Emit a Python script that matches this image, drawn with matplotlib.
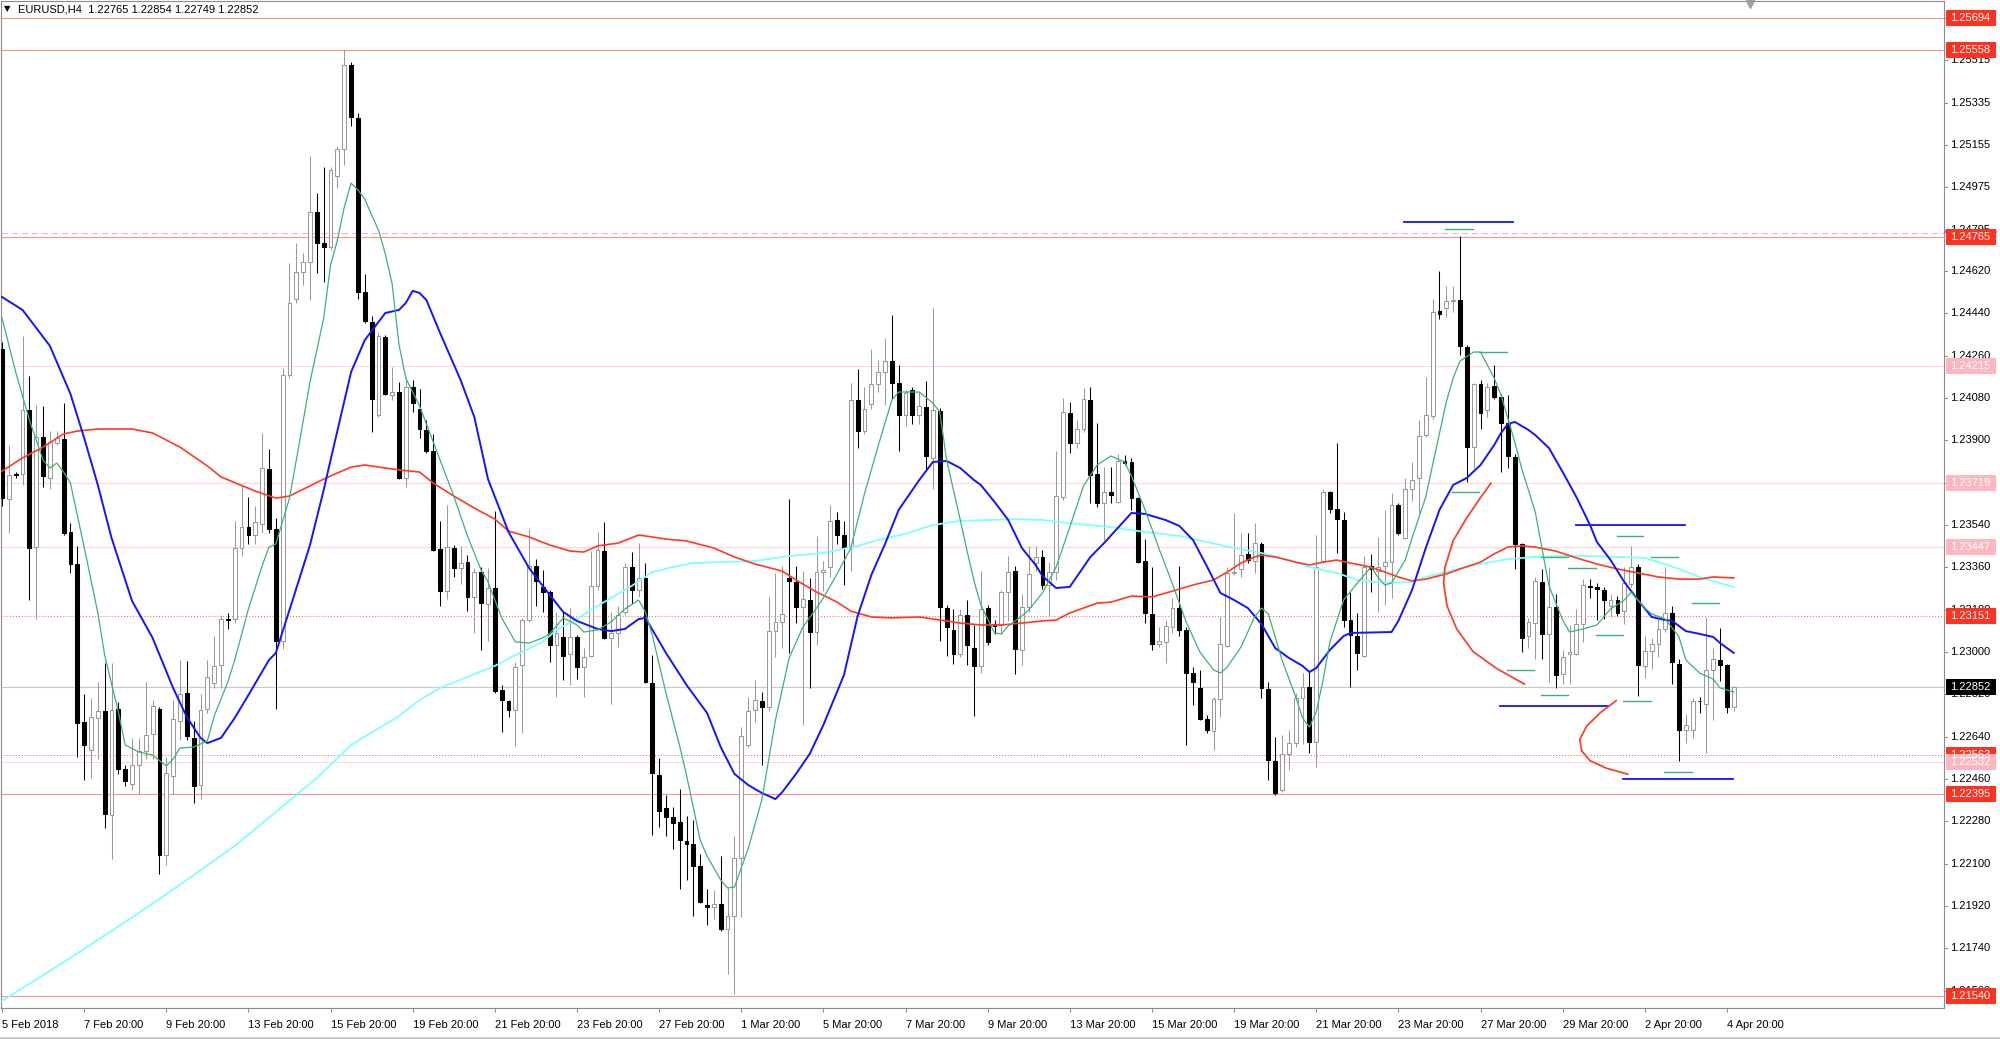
import matplotlib
matplotlib.use("Agg")
import matplotlib.pyplot as plt
from matplotlib.patches import Rectangle
import numpy as np

plt.rcParams['font.family'] = ['Liberation Sans', 'DejaVu Sans']

symbol = "EURUSD,H4"

# H4 candles, 5 Feb 2018 20:00 .. 5 Apr 2018 00:00
open_price = [
    1.24288, 1.23650, 1.23755, 1.23757, 1.24029, 1.23446, 1.23914, 1.23740, 1.23888, 1.23905,
    1.23510, 1.23374, 1.22702, 1.22584, 1.22720, 1.22749, 1.22307, 1.22758, 1.22503, 1.22439,
    1.22520, 1.22579, 1.22652, 1.22758, 1.22137, 1.22473, 1.22707, 1.22826, 1.22635, 1.22435,
    1.22758, 1.22868, 1.22945, 1.23140, 1.23140, 1.23442, 1.23531, 1.23497, 1.23544, 1.23778,
    1.23523, 1.23047, 1.24177, 1.24500, 1.24615, 1.24657, 1.24870, 1.24738, 1.24721, 1.25023,
    1.25138, 1.25495, 1.25270, 1.24530, 1.24403, 1.24007, 1.24339, 1.24092, 1.24105, 1.23740,
    1.24126, 1.24033, 1.23944, 1.23854, 1.23438, 1.23259, 1.23442, 1.23357, 1.23382, 1.23234,
    1.23340, 1.23204, 1.23272, 1.22839, 1.22792, 1.22753, 1.22945, 1.23136, 1.23366, 1.23276,
    1.23255, 1.23030, 1.23064, 1.22992, 1.23064, 1.22936, 1.22983, 1.23281, 1.23429, 1.23060,
    1.23081, 1.23170, 1.23361, 1.23264, 1.23315, 1.22868, 1.22477, 1.22337, 1.22299, 1.22278,
    1.22197, 1.22184, 1.22091, 1.21925, 1.21916, 1.21929, 1.21823, 1.21878, 1.22125, 1.22605,
    1.22753, 1.22792, 1.22766, 1.23089, 1.23128, 1.23315, 1.23298, 1.23191, 1.23221, 1.23085,
    1.23340, 1.23361, 1.23561, 1.23497, 1.23446, 1.24071, 1.23939, 1.24054, 1.24139, 1.24190,
    1.24237, 1.24143, 1.24007, 1.24114, 1.24007, 1.24041, 1.23825, 1.24024, 1.23187, 1.23094,
    1.22992, 1.23157, 1.23017, 1.22941, 1.23187, 1.23119, 1.23115, 1.23255, 1.23344, 1.23009,
    1.23191, 1.23378, 1.23404, 1.23285, 1.23340, 1.23659, 1.24016, 1.23888, 1.23948, 1.24071,
    1.23757, 1.23633, 1.23680, 1.23638, 1.23812, 1.23808, 1.23654, 1.23387, 1.23162, 1.23034,
    1.23043, 1.23106, 1.23187, 1.23094, 1.22911, 1.22847, 1.22715, 1.22664, 1.22800, 1.23026,
    1.23336, 1.23353, 1.23417, 1.23387, 1.23459, 1.22843, 1.22537, 1.22414, 1.22567, 1.22613,
    1.22805, 1.22851, 1.22618, 1.23387, 1.23680, 1.23608, 1.23561, 1.23136, 1.23068, 1.22983,
    1.23366, 1.23344, 1.23366, 1.23382, 1.23625, 1.23485, 1.23693, 1.23740, 1.23922, 1.24003,
    1.24449, 1.24462, 1.24492, 1.24496, 1.24296, 1.23871, 1.24139, 1.24029, 1.24131, 1.24084,
    1.23973, 1.23829, 1.23459, 1.23068, 1.23123, 1.23298, 1.23077, 1.23191, 1.22907, 1.22992,
    1.22992, 1.23119, 1.23281, 1.23276, 1.23264, 1.23196, 1.23221, 1.23174, 1.23289, 1.23361,
    1.22941, 1.23004, 1.23034, 1.23098, 1.23166, 1.22949, 1.22669, 1.22669, 1.22792, 1.22779,
    1.22924, 1.22966, 1.22945, 1.22765,
]
high_price = [
    1.24318, 1.23880, 1.23765, 1.24343, 1.24173, 1.24050, 1.24046, 1.23939, 1.23939, 1.24058,
    1.23548, 1.23451, 1.22822, 1.22805, 1.22873, 1.22953, 1.22953, 1.22788, 1.22520, 1.22635,
    1.22635, 1.22873, 1.22796, 1.22766, 1.22554, 1.22796, 1.22966, 1.22962, 1.22707, 1.22822,
    1.22966, 1.23068, 1.23157, 1.23166, 1.23557, 1.23710, 1.23659, 1.23621, 1.23931, 1.23863,
    1.23570, 1.24207, 1.24653, 1.24738, 1.24696, 1.25108, 1.24951, 1.25061, 1.25061, 1.25151,
    1.25559, 1.25508, 1.25291, 1.24607, 1.24428, 1.24356, 1.24347, 1.24211, 1.24148, 1.24156,
    1.24156, 1.24118, 1.23986, 1.23927, 1.23557, 1.23625, 1.23455, 1.23451, 1.23412, 1.23357,
    1.23361, 1.23357, 1.23599, 1.22860, 1.22796, 1.22958, 1.23145, 1.23523, 1.23395, 1.23348,
    1.23264, 1.23170, 1.23170, 1.23187, 1.23072, 1.23017, 1.23429, 1.23510, 1.23553, 1.23170,
    1.23196, 1.23378, 1.23425, 1.23463, 1.23378, 1.22987, 1.22550, 1.22392, 1.22341, 1.22418,
    1.22303, 1.22286, 1.22142, 1.21993, 1.21989, 1.22133, 1.21997, 1.22218, 1.22681, 1.22809,
    1.22881, 1.22830, 1.23234, 1.23336, 1.23366, 1.23650, 1.23366, 1.23344, 1.23315, 1.23493,
    1.23387, 1.23625, 1.23595, 1.23557, 1.24143, 1.24203, 1.24126, 1.24288, 1.24241, 1.24335,
    1.24432, 1.24220, 1.24114, 1.24126, 1.24105, 1.24152, 1.24462, 1.24037, 1.23200, 1.23183,
    1.23183, 1.23221, 1.23115, 1.23344, 1.23200, 1.23136, 1.23264, 1.23408, 1.23366, 1.23247,
    1.23451, 1.23451, 1.23434, 1.23382, 1.23854, 1.24080, 1.24063, 1.23986, 1.24122, 1.24126,
    1.23973, 1.23786, 1.23786, 1.23842, 1.23837, 1.23825, 1.23659, 1.23480, 1.23361, 1.23106,
    1.23136, 1.23230, 1.23366, 1.23106, 1.22936, 1.22924, 1.22732, 1.22809, 1.23149, 1.23361,
    1.23591, 1.23506, 1.23506, 1.23548, 1.23468, 1.22873, 1.22639, 1.22647, 1.22669, 1.22826,
    1.22911, 1.22915, 1.23497, 1.23693, 1.23684, 1.23888, 1.23595, 1.23255, 1.23166, 1.23408,
    1.23417, 1.23489, 1.23604, 1.23676, 1.23633, 1.23740, 1.23808, 1.23986, 1.24169, 1.24500,
    1.24619, 1.24556, 1.24556, 1.24768, 1.24305, 1.24143, 1.24156, 1.24143, 1.24220, 1.24097,
    1.24092, 1.23841, 1.23463, 1.23145, 1.23319, 1.23353, 1.23361, 1.23247, 1.23009, 1.23115,
    1.23183, 1.23310, 1.23310, 1.23293, 1.23276, 1.23247, 1.23238, 1.23361, 1.23451, 1.23374,
    1.23068, 1.23060, 1.23140, 1.23361, 1.23196, 1.22970, 1.22737, 1.22805, 1.22809, 1.23149,
    1.23017, 1.23102, 1.22949, 1.22854,
]
low_price = [
    1.23621, 1.23506, 1.23740, 1.23710, 1.23221, 1.23140, 1.23701, 1.23693, 1.23880, 1.23497,
    1.23336, 1.22554, 1.22456, 1.22465, 1.22545, 1.22252, 1.22120, 1.22481, 1.22431, 1.22414,
    1.22397, 1.22545, 1.22545, 1.22057, 1.22095, 1.22397, 1.22626, 1.22626, 1.22358, 1.22375,
    1.22741, 1.22847, 1.22847, 1.23098, 1.23123, 1.23408, 1.23459, 1.23459, 1.23506, 1.23506,
    1.22758, 1.23013, 1.24164, 1.24483, 1.24560, 1.24496, 1.24611, 1.24573, 1.24709, 1.24972,
    1.25070, 1.25236, 1.24500, 1.24400, 1.23935, 1.23999, 1.24092, 1.24071, 1.23735, 1.23701,
    1.24020, 1.23910, 1.23846, 1.23429, 1.23196, 1.23225, 1.23319, 1.23289, 1.23174, 1.23081,
    1.23009, 1.23047, 1.22826, 1.22660, 1.22724, 1.22601, 1.22656, 1.23128, 1.23196, 1.23170,
    1.22958, 1.22809, 1.22881, 1.22860, 1.22885, 1.22809, 1.22979, 1.23264, 1.23055, 1.22779,
    1.23021, 1.23157, 1.23204, 1.23234, 1.22868, 1.22222, 1.22256, 1.22218, 1.22163, 1.21993,
    1.22031, 1.21878, 1.21933, 1.21840, 1.21865, 1.21814, 1.21632, 1.21547, 1.21874, 1.22596,
    1.22702, 1.22520, 1.22749, 1.22979, 1.23017, 1.22996, 1.23123, 1.22690, 1.22847, 1.23030,
    1.23259, 1.23319, 1.23459, 1.23285, 1.23344, 1.23867, 1.23927, 1.24033, 1.24105, 1.24050,
    1.24075, 1.23854, 1.23961, 1.23969, 1.23969, 1.23778, 1.23693, 1.23047, 1.22983, 1.22949,
    1.22979, 1.22945, 1.22728, 1.22911, 1.23030, 1.23077, 1.23077, 1.23132, 1.22907, 1.22945,
    1.23170, 1.23344, 1.23268, 1.23153, 1.23306, 1.23646, 1.23846, 1.23867, 1.23935, 1.23633,
    1.23616, 1.23476, 1.23633, 1.23633, 1.23795, 1.23604, 1.23378, 1.23123, 1.23009, 1.23021,
    1.22953, 1.23081, 1.23068, 1.22605, 1.22775, 1.22711, 1.22656, 1.22584, 1.22724, 1.23021,
    1.23327, 1.23319, 1.23378, 1.23336, 1.22805, 1.22456, 1.22392, 1.22405, 1.22499, 1.22596,
    1.22609, 1.22571, 1.22511, 1.23378, 1.23591, 1.23421, 1.23106, 1.22851, 1.22924, 1.22979,
    1.23255, 1.23170, 1.23200, 1.23230, 1.23497, 1.23480, 1.23642, 1.23591, 1.23914, 1.23990,
    1.24415, 1.24424, 1.24445, 1.24262, 1.23723, 1.23782, 1.23948, 1.23999, 1.24075, 1.23765,
    1.23782, 1.23353, 1.23000, 1.23017, 1.22970, 1.22970, 1.22873, 1.22847, 1.22864, 1.22864,
    1.22987, 1.23043, 1.23230, 1.23136, 1.23140, 1.23149, 1.23153, 1.23119, 1.23276, 1.22813,
    1.22890, 1.22928, 1.22979, 1.23085, 1.22864, 1.22537, 1.22613, 1.22635, 1.22741, 1.22571,
    1.22711, 1.22877, 1.22741, 1.22749,
]
close_price = [
    1.23654, 1.23752, 1.23752, 1.24029, 1.23442, 1.23914, 1.23748, 1.23893, 1.23910, 1.23506,
    1.23374, 1.22698, 1.22605, 1.22724, 1.22749, 1.22312, 1.22753, 1.22503, 1.22452, 1.22520,
    1.22579, 1.22647, 1.22771, 1.22137, 1.22486, 1.22715, 1.22822, 1.22643, 1.22431, 1.22753,
    1.22894, 1.22941, 1.23140, 1.23136, 1.23442, 1.23531, 1.23497, 1.23553, 1.23782, 1.23523,
    1.23047, 1.24177, 1.24483, 1.24615, 1.24657, 1.24870, 1.24738, 1.24721, 1.25049, 1.25138,
    1.25495, 1.25274, 1.24530, 1.24407, 1.24075, 1.24343, 1.24097, 1.24105, 1.23740, 1.24126,
    1.24058, 1.23948, 1.23854, 1.23434, 1.23259, 1.23446, 1.23357, 1.23378, 1.23234, 1.23340,
    1.23208, 1.23272, 1.22834, 1.22796, 1.22753, 1.22936, 1.23136, 1.23366, 1.23302, 1.23255,
    1.23030, 1.23081, 1.22983, 1.23064, 1.22936, 1.22979, 1.23281, 1.23434, 1.23060, 1.23081,
    1.23157, 1.23361, 1.23264, 1.23315, 1.22873, 1.22486, 1.22324, 1.22299, 1.22273, 1.22201,
    1.22184, 1.22091, 1.21938, 1.21916, 1.21929, 1.21823, 1.21878, 1.22125, 1.22643, 1.22749,
    1.22796, 1.22766, 1.23089, 1.23128, 1.23162, 1.23302, 1.23191, 1.23225, 1.23085, 1.23340,
    1.23348, 1.23557, 1.23497, 1.23442, 1.24071, 1.23939, 1.24033, 1.24139, 1.24190, 1.24237,
    1.24143, 1.24007, 1.24101, 1.24007, 1.24046, 1.23833, 1.24029, 1.23191, 1.23106, 1.22992,
    1.23157, 1.23030, 1.22941, 1.23183, 1.23043, 1.23111, 1.23255, 1.23340, 1.23013, 1.23191,
    1.23332, 1.23404, 1.23285, 1.23340, 1.23663, 1.24020, 1.23888, 1.23948, 1.24075, 1.23752,
    1.23633, 1.23680, 1.23667, 1.23812, 1.23803, 1.23654, 1.23382, 1.23166, 1.23034, 1.23047,
    1.23111, 1.23187, 1.23094, 1.22911, 1.22873, 1.22715, 1.22669, 1.22800, 1.23034, 1.23336,
    1.23340, 1.23412, 1.23391, 1.23463, 1.22847, 1.22541, 1.22401, 1.22567, 1.22613, 1.22805,
    1.22851, 1.22618, 1.23361, 1.23680, 1.23608, 1.23565, 1.23136, 1.23072, 1.22996, 1.23361,
    1.23353, 1.23361, 1.23382, 1.23625, 1.23506, 1.23693, 1.23731, 1.23918, 1.24007, 1.24445,
    1.24437, 1.24492, 1.24496, 1.24301, 1.23871, 1.24139, 1.24016, 1.24126, 1.24084, 1.23973,
    1.23833, 1.23459, 1.23060, 1.23128, 1.23302, 1.23077, 1.23191, 1.22902, 1.22979, 1.23000,
    1.23119, 1.23285, 1.23276, 1.23268, 1.23221, 1.23221, 1.23166, 1.23293, 1.23361, 1.22945,
    1.23004, 1.23034, 1.23098, 1.23166, 1.22958, 1.22669, 1.22690, 1.22792, 1.22790, 1.22924,
    1.22970, 1.22945, 1.22766, 1.22852,
]

# moving averages at sample bars
ma_fast_bars = [0, 2, 4, 6, 7, 8, 9, 10, 11, 12, 14, 15, 17, 18, 20, 22, 24, 25, 26, 28,
                30, 31, 33, 34, 36, 38, 39, 40, 42, 43, 45, 47, 48, 49, 50, 51, 52, 53, 54, 55,
                56, 57, 58, 59, 61, 63, 65, 66, 68, 70, 71, 73, 75, 77, 79, 80, 82, 84, 85, 87,
                89, 91, 93, 94, 95, 97, 99, 100, 102, 103, 105, 106, 107, 108, 109, 111, 113, 115, 117, 119,
                120, 122, 124, 126, 128, 130, 131, 134, 136, 137, 138, 140, 141, 142, 143, 145, 146, 147, 149, 150,
                152, 154, 156, 158, 160, 162, 164, 165, 167, 169, 171, 173, 175, 177, 178, 179, 181, 183, 184, 185,
                187, 189, 190, 191, 192, 193, 194, 196, 198, 200, 201, 202, 203, 205, 206, 208, 209, 211, 212, 213,
                215, 216, 218, 219, 221, 222, 224, 226, 228, 229, 231, 233, 235, 237, 238, 240, 241, 243, 245, 246,
                248, 250, 251, 253]
ma_fast_vals = [1.24420, 1.24190, 1.23986, 1.23816, 1.23782, 1.23803, 1.23765, 1.23718, 1.23582, 1.23446,
                1.23166, 1.22987, 1.22745, 1.22605, 1.22575, 1.22562, 1.22516, 1.22545, 1.22592, 1.22596,
                1.22622, 1.22728, 1.22873, 1.22966, 1.23183, 1.23366, 1.23446, 1.23459, 1.23654, 1.23816,
                1.24148, 1.24420, 1.24645, 1.24751, 1.24891, 1.24993, 1.24964, 1.24925, 1.24857, 1.24794,
                1.24692, 1.24564, 1.24305, 1.24164, 1.24046, 1.23893, 1.23740, 1.23663, 1.23493, 1.23348,
                1.23298, 1.23145, 1.23043, 1.23038, 1.23060, 1.23077, 1.23145, 1.23115, 1.23085, 1.23094,
                1.23128, 1.23183, 1.23221, 1.23170, 1.23072, 1.22826, 1.22601, 1.22477, 1.22201, 1.22133,
                1.22031, 1.21997, 1.22001, 1.22082, 1.22163, 1.22371, 1.22711, 1.22975, 1.23106, 1.23187,
                1.23230, 1.23332, 1.23442, 1.23672, 1.23876, 1.24071, 1.24105, 1.24105, 1.24058, 1.24020,
                1.23816, 1.23561, 1.23429, 1.23302, 1.23200, 1.23081, 1.23077, 1.23111, 1.23153, 1.23179,
                1.23251, 1.23361, 1.23531, 1.23706, 1.23795, 1.23833, 1.23808, 1.23748, 1.23604, 1.23442,
                1.23289, 1.23128, 1.23000, 1.22924, 1.22911, 1.22936, 1.23021, 1.23149, 1.23187, 1.23162,
                1.22966, 1.22809, 1.22720, 1.22681, 1.22745, 1.22881, 1.23043, 1.23221, 1.23293, 1.23361,
                1.23319, 1.23285, 1.23293, 1.23391, 1.23485, 1.23659, 1.23795, 1.24063, 1.24164, 1.24237,
                1.24275, 1.24275, 1.24164, 1.24092, 1.23893, 1.23782, 1.23595, 1.23281, 1.23136, 1.23085,
                1.23098, 1.23115, 1.23183, 1.23221, 1.23255, 1.23187, 1.23162, 1.23140, 1.23064, 1.22966,
                1.22911, 1.22885, 1.22847, 1.22830]

ma_mid_bars = [0, 3, 7, 10, 12, 14, 16, 19, 22, 25, 27, 29, 30, 32, 34, 36, 39, 40, 42, 45,
               47, 48, 51, 53, 56, 58, 59, 60, 61, 62, 64, 67, 69, 71, 74, 77, 79, 82, 84, 87,
               89, 91, 93, 94, 97, 100, 103, 105, 107, 109, 111, 113, 114, 116, 118, 120, 123, 125, 127, 129,
               131, 134, 136, 138, 140, 142, 143, 145, 147, 149, 151, 152, 154, 156, 159, 161, 163, 165, 167, 170,
               172, 174, 176, 178, 180, 182, 184, 186, 188, 190, 191, 192, 194, 196, 197, 203, 204, 206, 208, 210,
               212, 214, 216, 218, 219, 220, 221, 223, 224, 226, 228, 230, 232, 233, 235, 237, 239, 241, 243, 244,
               246, 248, 250, 251, 253]
ma_mid_vals = [1.24509, 1.24454, 1.24301, 1.24097, 1.23910, 1.23710, 1.23485, 1.23217, 1.23060, 1.22847,
               1.22724, 1.22635, 1.22613, 1.22635, 1.22720, 1.22817, 1.22966, 1.22996, 1.23179, 1.23455,
               1.23689, 1.23816, 1.24190, 1.24326, 1.24441, 1.24454, 1.24484, 1.24535, 1.24526, 1.24496,
               1.24356, 1.24156, 1.23999, 1.23735, 1.23510, 1.23357, 1.23281, 1.23170, 1.23132, 1.23098,
               1.23089, 1.23098, 1.23140, 1.23145, 1.22996, 1.22860, 1.22741, 1.22596, 1.22482, 1.22435,
               1.22401, 1.22375, 1.22405, 1.22482, 1.22567, 1.22690, 1.22902, 1.23153, 1.23327, 1.23459,
               1.23604, 1.23731, 1.23808, 1.23812, 1.23782, 1.23731, 1.23710, 1.23638, 1.23561, 1.23442,
               1.23370, 1.23323, 1.23272, 1.23277, 1.23404, 1.23463, 1.23527, 1.23591, 1.23587, 1.23561,
               1.23536, 1.23476, 1.23366, 1.23251, 1.23221, 1.23187, 1.23119, 1.23017, 1.22975, 1.22941,
               1.22915, 1.22932, 1.23009, 1.23068, 1.23081, 1.23085, 1.23132, 1.23264, 1.23442, 1.23604,
               1.23710, 1.23740, 1.23795, 1.23880, 1.23931, 1.23969, 1.23978, 1.23944, 1.23922, 1.23867,
               1.23765, 1.23659, 1.23540, 1.23468, 1.23391, 1.23298, 1.23221, 1.23149, 1.23136, 1.23132,
               1.23089, 1.23077, 1.23064, 1.23038, 1.22996]

ma_slow_bars = [0, 3, 6, 9, 11, 14, 19, 22, 26, 30, 32, 37, 40, 42, 45, 47, 49, 51, 53, 56,
                58, 61, 63, 66, 69, 72, 74, 77, 80, 83, 85, 87, 90, 93, 95, 97, 100, 104, 107, 110,
                114, 116, 119, 122, 124, 127, 130, 134, 137, 140, 143, 146, 149, 152, 154, 156, 158, 160, 162, 165,
                168, 171, 174, 177, 179, 181, 183, 184, 186, 189, 191, 193, 195, 197, 200, 202, 204, 206, 208, 211,
                213, 216, 218, 220, 222, 224, 227, 230, 233, 236, 239, 242, 245, 248, 250, 253]
ma_slow_vals = [1.23769, 1.23825, 1.23871, 1.23927, 1.23939, 1.23948, 1.23948, 1.23931, 1.23871, 1.23791,
                1.23744, 1.23684, 1.23654, 1.23663, 1.23706, 1.23735, 1.23761, 1.23786, 1.23795, 1.23782,
                1.23774, 1.23765, 1.23718, 1.23663, 1.23612, 1.23565, 1.23514, 1.23489, 1.23455, 1.23429,
                1.23425, 1.23451, 1.23463, 1.23497, 1.23489, 1.23480, 1.23472, 1.23442, 1.23404, 1.23374,
                1.23344, 1.23306, 1.23255, 1.23212, 1.23174, 1.23149, 1.23145, 1.23149, 1.23136, 1.23123,
                1.23115, 1.23115, 1.23123, 1.23132, 1.23136, 1.23166, 1.23187, 1.23208, 1.23212, 1.23238,
                1.23234, 1.23259, 1.23285, 1.23306, 1.23340, 1.23378, 1.23404, 1.23412, 1.23404, 1.23382,
                1.23370, 1.23382, 1.23391, 1.23378, 1.23361, 1.23340, 1.23319, 1.23302, 1.23310, 1.23332,
                1.23353, 1.23382, 1.23417, 1.23446, 1.23451, 1.23446, 1.23429, 1.23400, 1.23374, 1.23353,
                1.23336, 1.23319, 1.23310, 1.23310, 1.23319, 1.23315]

ma_long_bars = [0, 10, 20, 27, 34, 40, 46, 51, 58, 61, 64, 68, 72, 75, 79, 81, 84, 86, 89, 92,
                95, 98, 101, 105, 110, 115, 120, 125, 128, 132, 136, 140, 144, 148, 152, 157, 162, 166, 172, 176,
                180, 184, 188, 191, 195, 198, 202, 206, 208, 212, 216, 220, 224, 228, 232, 236, 240, 242, 245, 248,
                251, 253]
ma_long_vals = [1.21517, 1.21700, 1.21891, 1.22031, 1.22176, 1.22320, 1.22465, 1.22605, 1.22728, 1.22796,
                1.22847, 1.22894, 1.22941, 1.22987, 1.23043, 1.23094, 1.23140, 1.23179, 1.23230, 1.23281,
                1.23340, 1.23361, 1.23378, 1.23382, 1.23387, 1.23408, 1.23421, 1.23451, 1.23476, 1.23502,
                1.23540, 1.23557, 1.23561, 1.23565, 1.23561, 1.23544, 1.23531, 1.23514, 1.23493, 1.23468,
                1.23442, 1.23421, 1.23391, 1.23361, 1.23336, 1.23306, 1.23293, 1.23298, 1.23319, 1.23348,
                1.23374, 1.23395, 1.23404, 1.23408, 1.23408, 1.23404, 1.23400, 1.23382, 1.23353, 1.23319,
                1.23293, 1.23276]

# drawn objects: (first bar, last bar, price)
blue_segments = [(204.8, 220.7, 1.24828), (230.0, 245.9, 1.23540),
                 (218.8, 234.6, 1.22771), (236.8, 252.9, 1.22460)]
green_segments = [(210.8, 214.9, 1.24798), (215.8, 219.9, 1.24275), (211.8, 215.8, 1.23680),
                  (219.9, 223.8, 1.22924), (224.8, 228.8, 1.22817), (224.8, 228.8, 1.23404),
                  (228.8, 232.9, 1.23357), (232.9, 236.8, 1.23072), (235.9, 239.7, 1.23493),
                  (240.9, 244.9, 1.23404), (236.8, 240.9, 1.22792), (246.9, 250.8, 1.23208),
                  (242.8, 246.9, 1.22490)]
arc1_bars = [217.5, 215.9, 214.0, 212.0, 210.8, 210.6, 211.1, 212.5, 214.9, 218.4, 222.4]
arc1_vals = [1.23717, 1.23652, 1.23571, 1.23473, 1.23360, 1.23295, 1.23197, 1.23099, 1.23002, 1.22929, 1.22864]
arc2_bars = [235.8, 233.5, 231.5, 230.5, 230.8, 232.0, 234.4, 237.5]
arc2_vals = [1.22793, 1.22742, 1.22685, 1.22628, 1.22579, 1.22538, 1.22506, 1.22481]

# horizontal levels and their price tags
level_prices = [1.25694, 1.25558, 1.24765, 1.24215, 1.23719, 1.23447, 1.23151,
                1.22563, 1.22532, 1.22395, 1.21540, 1.22852]
level_kinds = ['red', 'red', 'red', 'pink', 'pink', 'pink', 'dot',
               'dot', 'pink', 'red', 'red', 'bid']
dash_level = 1.24780

price_ticks = [1.25695, 1.25515, 1.25335, 1.25155, 1.24975, 1.24795, 1.24620, 1.24440,
               1.24260, 1.24080, 1.23900, 1.23720, 1.23540, 1.23360, 1.23180, 1.23000,
               1.22820, 1.22640, 1.22460, 1.22280, 1.22100, 1.21920, 1.21740, 1.21560]

date_bars = [0, 12, 24, 36, 48, 60, 72, 84, 96, 108, 120, 132, 144, 156, 168, 180,
             192, 204, 216, 228, 240, 252]
date_labels = ["5 Feb 2018", "7 Feb 20:00", "9 Feb 20:00", "13 Feb 20:00", "15 Feb 20:00",
               "19 Feb 20:00", "21 Feb 20:00", "23 Feb 20:00", "27 Feb 20:00", "1 Mar 20:00",
               "5 Mar 20:00", "7 Mar 20:00", "9 Mar 20:00", "13 Mar 20:00", "15 Mar 20:00",
               "19 Mar 20:00", "21 Mar 20:00", "23 Mar 20:00", "27 Mar 20:00", "29 Mar 20:00",
               "2 Apr 20:00", "4 Apr 20:00"]

# ---- layout (pixels) ----
W, H = 2000, 1039
bar_px = 6.845          # distance between candles
first_bar_px = 2.0      # x of first candle
left_px, right_px, top_px, bottom_px = 1, 1944, 1, 1008
y_top, y_bottom = 1.25767, 1.21487

RED_TAG = '#FF3222'
PINK_TAG = '#FFB6C1'
SALMON = '#FA9488'
PINK_LINE = '#FFD6DD'
GRAY = '#9A9A9A'

fig = plt.figure(figsize=(W / 100, H / 100), dpi=100)
ax = fig.add_axes([left_px / W, (H - bottom_px) / H, (right_px - left_px) / W, (bottom_px - top_px) / H])
ax.set_xlim((left_px - first_bar_px) / bar_px, (right_px - first_bar_px) / bar_px)
ax.set_ylim(y_bottom, y_top)
px_price = (y_top - y_bottom) / (bottom_px - top_px)

# levels
for p, kind in zip(level_prices, level_kinds):
    if kind == 'red':
        ax.axhline(p, color=SALMON, lw=0.8, zorder=1)
    elif kind == 'pink':
        ax.axhline(p, color=PINK_LINE, lw=0.8, zorder=1)
    elif kind == 'dot':
        ax.axhline(p, color='#FF5A50', lw=0.7, ls=(0, (1, 2)), zorder=1)
    else:
        ax.axhline(p, color='#C8C8C8', lw=0.8, zorder=1)
ax.axhline(dash_level, color='#FFA6EE', lw=0.8, ls=(0, (6, 3)), zorder=1)

# candles
o = np.array(open_price)
h = np.array(high_price)
l = np.array(low_price)
c = np.array(close_price)
x = np.arange(len(c))
bull = c > o
edge = np.where(bull, GRAY, 'black')
ax.vlines(x, l, h, colors=edge, lw=0.75, zorder=3)
ax.bar(x, np.abs(c - o), bottom=np.minimum(o, c), width=0.56,
       color=np.where(bull, 'white', 'black'), edgecolor=edge, lw=0.75, zorder=4)

# indicators
ax.plot(ma_long_bars, ma_long_vals, color='#7FFFFF', lw=1.3, zorder=5)
ax.plot(ma_slow_bars, ma_slow_vals, color='#FF3A24', lw=1.2, zorder=5)
ax.plot(ma_mid_bars, ma_mid_vals, color='#1414FF', lw=1.4, zorder=5)
ax.plot(ma_fast_bars, ma_fast_vals, color='#3CB371', lw=0.9, zorder=5)

# drawn objects
for b0, b1, p in blue_segments:
    ax.plot([b0, b1], [p, p], color='#1414FF', lw=1.3, zorder=6)
for b0, b1, p in green_segments:
    ax.plot([b0, b1], [p, p], color='#3CB371', lw=1.0, zorder=6)
ax.plot(arc1_bars, arc1_vals, color='#F5462D', lw=1.3, zorder=6)
ax.plot(arc2_bars, arc2_vals, color='#F5462D', lw=1.3, zorder=6)

# chart shift marker
ax.plot([255.4], [y_top - 3 * px_price], marker='v', ms=6, color='#A0A0A0', zorder=7, clip_on=False)

# axes styling
for s in ax.spines.values():
    s.set_color('#8C8C8C')
    s.set_linewidth(0.8)
ax.set_yticks([])
ax.set_xticks(date_bars)
ax.set_xticklabels(date_labels, fontsize=8, ha='left')
ax.tick_params(axis='x', direction='out', length=3, width=0.75, color='#8C8C8C', pad=6)

# header
fig.text(4 / W, 1 - 9 / H, '\u25bc', fontsize=6, va='center', ha='left', family=['DejaVu Sans'])
fig.text(18 / W, 1 - 10 / H, f"{symbol}  {open_price[-1]:.5f} {high_price[-1]:.5f} "
         f"{low_price[-1]:.5f} {close_price[-1]:.5f}", fontsize=8, va='center', ha='left')

# right price scale
axr = fig.add_axes([right_px / W, (H - bottom_px) / H, (W - right_px) / W, (bottom_px - top_px) / H])
axr.set_xlim(0, W - right_px)
axr.set_ylim(y_bottom, y_top)
axr.axis('off')
for p in price_ticks:
    axr.plot([0, 3], [p, p], color='#8C8C8C', lw=0.75)
    axr.text(6, p, f'{p:.5f}', fontsize=8, va='center', ha='left')

axr.plot([2, 52], [dash_level + 1.5 * px_price] * 2, color='#FF40E0', lw=1.5, zorder=2)
tag_h = 16 * px_price
for p, kind in zip(level_prices, level_kinds):
    fc = {'red': RED_TAG, 'dot': RED_TAG, 'pink': PINK_TAG, 'bid': 'black'}[kind]
    axr.add_patch(Rectangle((2, p - tag_h / 2), 50, tag_h, facecolor=fc, edgecolor='none', zorder=3))
    axr.text(6, p, f'{p:.5f}', fontsize=8, va='center', ha='left', color='white', zorder=4)

# bottom tab strip
fig.add_artist(plt.Line2D([0, 1], [1.5 / H, 1.5 / H], color='#C8C8C8', lw=2))

fig.savefig('out.png', dpi=100, facecolor='white')
